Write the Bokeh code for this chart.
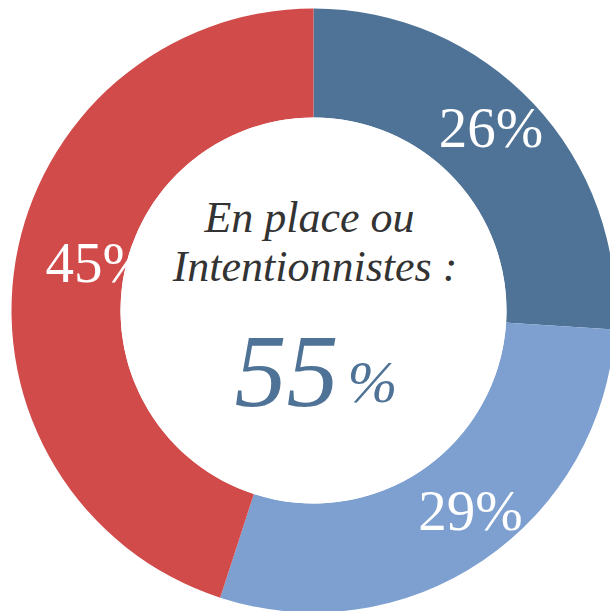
import math
from bokeh.plotting import figure
from bokeh.models import Range1d
from bokeh.core.properties import value
from bokeh.embed import file_html
from bokeh.resources import INLINE

# ---- data ----
categories = ["En place", "Intentionnistes", "Autres"]
shares = [26, 29, 45]
colors = ["#4F7396", "#7EA0D0", "#D04B4A"]
labels = ["26%", "29%", "45%"]
center_title = ["En place ou", "Intentionnistes :"]
center_value = "55"

# ---- geometry (pixels) ----
W, H = 610, 611
cx, cy = 313, 301
R_out, R_in = 302, 193
label_r = [255, 254, 221]
label_da = [-2.7, -4.0, 3.5]   # degrees tweak (clockwise)

p = figure(width=W, height=H, output_backend="svg", toolbar_location=None,
           x_range=Range1d(0, W), y_range=Range1d(0, H), min_border=0,
           background_fill_color="white", border_fill_color="white")
p.axis.visible = False
p.grid.visible = False
p.outline_line_color = None

total = float(sum(shares))
start_deg = 0.0  # clockwise from 12 o'clock
starts, ends, mids = [], [], []
for s in shares:
    e = start_deg + 360.0 * s / total
    starts.append(start_deg); ends.append(e); mids.append((start_deg + e) / 2)
    start_deg = e

def to_math(deg_cw):
    return math.radians(90.0 - deg_cw)

p.annular_wedge(x=[cx]*3, y=[cy]*3, inner_radius=R_in, outer_radius=R_out,
                start_angle=[to_math(e) for e in ends],
                end_angle=[to_math(s) for s in starts],
                fill_color=colors, line_color=None)

# slice labels
lx, ly = [], []
for m, r, da in zip(mids, label_r, label_da):
    a = to_math(m + da)
    lx.append(cx + r * math.cos(a))
    ly.append(cy + r * math.sin(a))
p.text(x=lx, y=ly, text=labels, text_color="white", text_align="center",
       text_baseline="middle", text_font=value("Liberation Serif"),
       text_font_size="57px")

# white hole drawn over labels
p.circle(x=[cx], y=[cy], radius=R_in, fill_color="white", line_color=None)

# centre texts
p.text(x=[cx - 4, cx + 1.5], y=[cy + 93, cy + 44], text=center_title,
       text_color="#333333", text_align="center", text_baseline="alphabetic",
       text_font=value("Liberation Serif"), text_font_style="italic",
       text_font_size="44px")
p.text(x=[cx + 25], y=[cy - 61], text=[center_value], text_color="#4F7396",
       text_align="right", text_baseline="alphabetic",
       text_font=value("Liberation Serif"), text_font_style="italic",
       text_font_size="104px")
p.text(x=[cx + 34], y=[cy - 71], text=["%"], text_color="#4F7396",
       text_align="left", text_baseline="alphabetic",
       text_font=value("Liberation Serif"), text_font_style="italic",
       text_font_size="60px")

open("out.html", "w").write(file_html(p, INLINE))
